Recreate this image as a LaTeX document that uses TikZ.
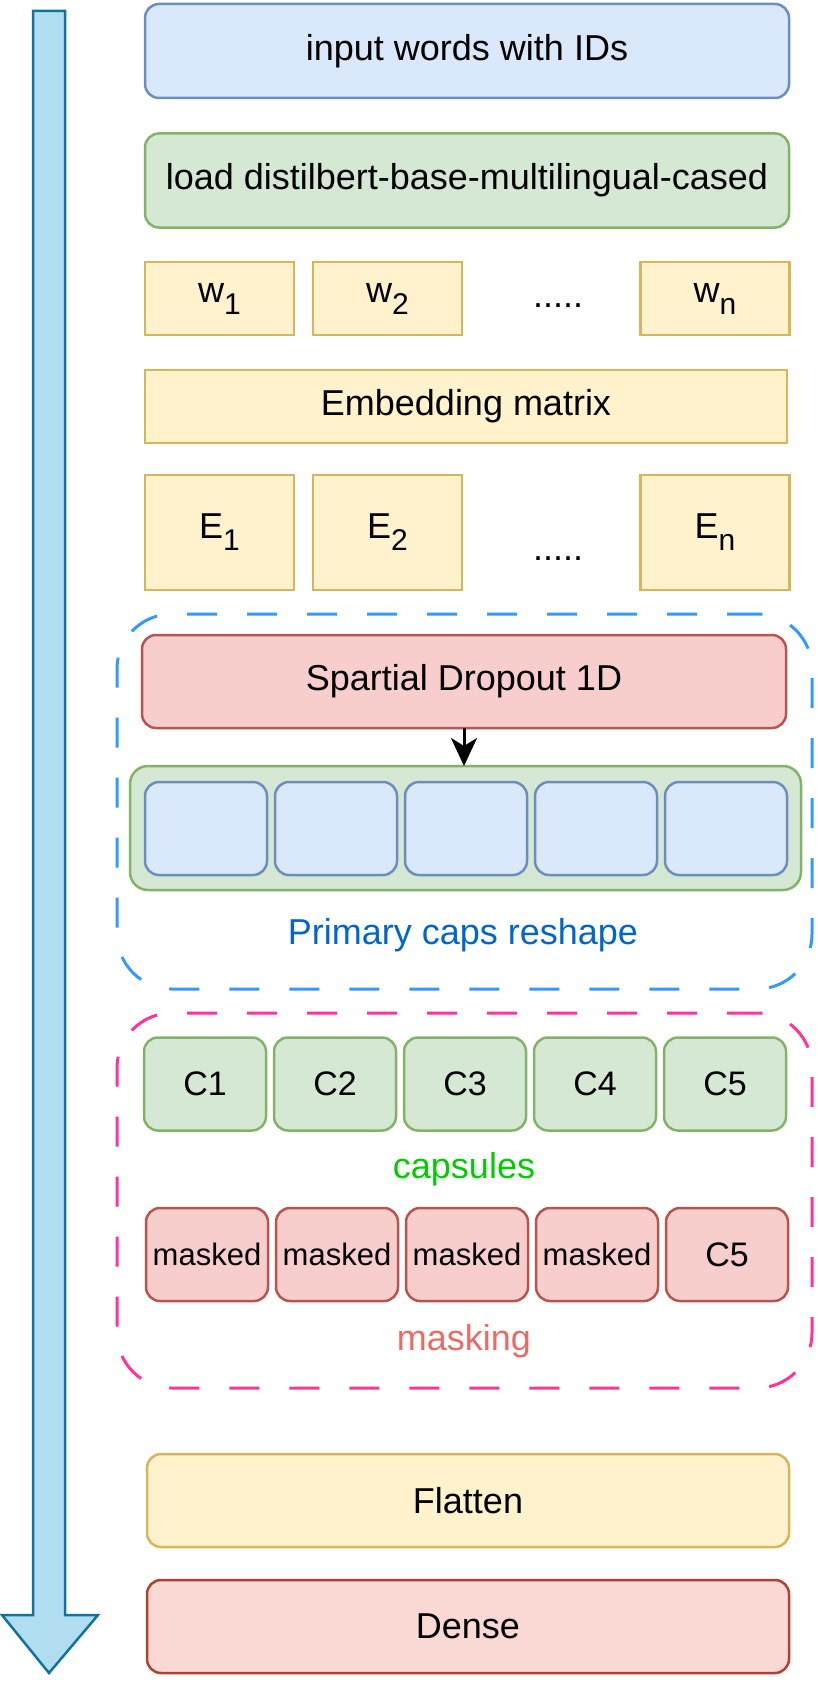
\documentclass[tikz,border=0pt]{standalone}
\usepackage{fontspec}
\setmainfont{Liberation Sans}
\usetikzlibrary{arrows.meta}

\definecolor{bluefill}{HTML}{DAE8FC}
\definecolor{bluedraw}{HTML}{6C8EBF}
\definecolor{greenfill}{HTML}{D5E8D4}
\definecolor{greendraw}{HTML}{82B366}
\definecolor{yellowfill}{HTML}{FFF2CC}
\definecolor{yellowdraw}{HTML}{D6B656}
\definecolor{redfill}{HTML}{F8CECC}
\definecolor{reddraw}{HTML}{B85450}
\definecolor{densefill}{HTML}{FAD9D5}
\definecolor{densedraw}{HTML}{AE4132}
\definecolor{flowfill}{HTML}{B1DDF0}
\definecolor{flowdraw}{HTML}{10739E}
\definecolor{reshapeblue}{HTML}{3399FF}
\definecolor{maskpink}{HTML}{FF3399}
\definecolor{reshapetext}{HTML}{0066CC}
\definecolor{capsgreen}{HTML}{00CC00}
\definecolor{masktext}{HTML}{EA6B66}

\newcommand{\lowsub}[1]{\raisebox{-12pt}{\fontsize{30}{30}\selectfont #1}}

\begin{document}
\begin{tikzpicture}[x=1pt, y=-1pt,
    every node/.style={font=\fontsize{36}{43}\selectfont, inner sep=0pt, outer sep=0pt, line width=2.5pt},
    wide/.style={draw, minimum width=644pt, minimum height=94pt},
    token/.style={draw=yellowdraw, fill=yellowfill, minimum width=149pt},
    cell/.style={draw, rounded corners=14pt, minimum width=122pt, minimum height=93pt},
    group/.style={draw, line width=3pt, dash pattern=on 30pt off 30pt, rounded corners=55pt,
                  minimum width=695pt, minimum height=375pt}]
    \useasboundingbox (0,0) rectangle (818,1683);

    % flow arrow on the left
    \draw[draw=flowdraw, fill=flowfill, line width=2.5pt, line join=miter]
        (33,11) -- (65,11) -- (65,1615) -- (98,1615) -- (49,1673) -- (2,1615) -- (33,1615) -- cycle;

    \node[wide, draw=bluedraw, fill=bluefill, rounded corners=14pt] (input) at (467,51) {input words with IDs};
    \node[wide, draw=greendraw, fill=greenfill, rounded corners=14pt] (load) at (467,180.5) {load distilbert-base-multilingual-cased};

    \node[token, minimum height=73pt] (w1) at (219.5,298.5) {w\lowsub{1}};
    \node[token, minimum height=73pt] (w2) at (387.5,298.5) {w\lowsub{2}};
    \node[anchor=base] (wdots) at (558,307) {.....};
    \node[token, minimum height=73pt] (wn) at (715,298.5) {w\lowsub{n}};

    \node[wide, draw=yellowdraw, fill=yellowfill, minimum width=642pt, minimum height=73pt] (emb) at (466,406.5) {Embedding matrix};

    \node[token, minimum height=115pt] (e1) at (219.5,532.5) {E\lowsub{1}};
    \node[token, minimum height=115pt] (e2) at (387.5,532.5) {E\lowsub{2}};
    \node[anchor=base] (edots) at (558,560) {.....};
    \node[token, minimum height=115pt] (en) at (715,532.5) {E\lowsub{n}};

    % primary caps reshape
    \node[group, draw=reshapeblue] (reshape) at (464.5,801.5) {};
    \node[wide, draw=reddraw, fill=redfill, rounded corners=14pt, minimum height=93pt] (drop) at (464,681.5) {Spartial Dropout 1D};
    \node[draw=greendraw, fill=greenfill, rounded corners=18pt, minimum width=671pt, minimum height=124pt] (prim) at (465.5,828) {};
    \foreach \cx [count=\i] in {206,336,466,596,726}
        \node[cell, draw=bluedraw, fill=bluefill] (p\i) at (\cx,828.5) {};
    \node[text=reshapetext] (reshapelabel) at (463,935) {Primary caps reshape};
    \draw[-{Stealth[length=28pt, width=26pt, inset=8pt]}, line width=3pt] (drop.south) -- (drop.south |- prim.north);

    % capsules and masking
    \node[group, draw=maskpink] (maskgroup) at (464.5,1200.5) {};
    \foreach \cx [count=\i] in {205,335,465,595,725}
        \node[cell, draw=greendraw, fill=greenfill, font=\fontsize{34}{40}\selectfont] (c\i) at (\cx,1084) {C\i};
    \node[text=capsgreen] (capslabel) at (464,1169) {capsules};
    \foreach \cx [count=\i] in {207,337,467,597}
        \node[cell, draw=reddraw, fill=redfill, font=\fontsize{31}{37}\selectfont] (m\i) at (\cx,1254.5) {masked};
    \node[cell, draw=reddraw, fill=redfill, font=\fontsize{34}{40}\selectfont] (m5) at (727,1254.5) {C5};
    \node[text=masktext] (masklabel) at (464,1341) {masking};

    \node[wide, draw=yellowdraw, fill=yellowfill, rounded corners=14pt, minimum width=642pt, minimum height=93pt] (flat) at (468,1500.5) {Flatten};
    \node[wide, draw=densedraw, fill=densefill, rounded corners=14pt, minimum width=642pt, minimum height=93pt] (dense) at (468,1626.5) {Dense};
\end{tikzpicture}
\end{document}
